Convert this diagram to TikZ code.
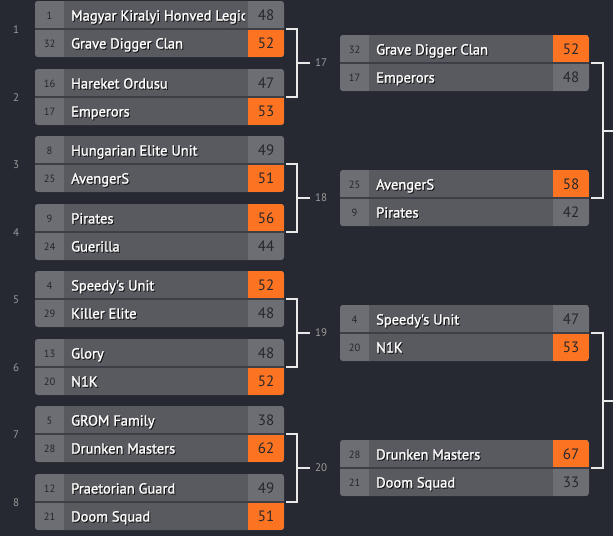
\documentclass[tikz,border=0pt]{standalone}
\usepackage{fontspec}
\setmainfont{PT Sans}
\newfontfamily\namefont{PT Sans}[FakeBold=1.3]
\usetikzlibrary{calc}
\definecolor{bg}{HTML}{272932}
\definecolor{cellname}{HTML}{595A5F}
\definecolor{cellside}{HTML}{6D6E73}
\definecolor{win}{HTML}{FC7322}
\definecolor{divider}{HTML}{3E3F46}
\definecolor{linec}{HTML}{E8E8E8}
\definecolor{lbl}{HTML}{9C9C9C}
\definecolor{darktxt}{HTML}{26272D}
\tikzset{
  matchbox/.style={minimum width=249pt, minimum height=56pt, inner sep=0pt, outer sep=0pt, fill=cellname, rounded corners=3pt, draw=none},
  seedtxt/.style={font=\fontsize{10.5}{12}\selectfont, text=darktxt, inner sep=0pt, anchor=base},
  nametxt/.style={font=\namefont\fontsize{14.5}{16}\selectfont, text=white, inner sep=0pt, anchor=base west},
  nameshadow/.style={nametxt, text=black, opacity=0.7},
  scoretxt/.style={font=\fontsize{15}{16}\selectfont, text=darktxt, inner sep=0pt, anchor=base},
  roundlbl/.style={font=\fontsize{11}{12}\selectfont, text=lbl, inner sep=0pt},
  bracket/.style={draw=linec, line width=2pt},
}
% name, xleft, top, seed1, team1, score1, seed2, team2, score2
\newcommand{\drawmatch}[9]{%
  \node[matchbox, anchor=north west] (#1) at (#2,#3) {};
  \begin{scope}
    \clip[rounded corners=3pt] (#2,#3) rectangle ({#2+249},{#3+56});
    \fill[cellside] (#2,#3) rectangle ({#2+29},{#3+56});
    \begin{scope}
      \clip ({#2+29},#3) rectangle ({#2+210},{#3+56});
      \node[nameshadow] (#1-t1s) at ({#2+37},{#3+20.5}) {#5};
      \node[nametxt] (#1-t1) at ({#2+36},{#3+19.5}) {#5};
      \node[nameshadow] (#1-t2s) at ({#2+37},{#3+48.5}) {#8};
      \node[nametxt] (#1-t2) at ({#2+36},{#3+47.5}) {#8};
    \end{scope}
    \fill[cellside] ({#2+213},#3) rectangle ({#2+249},{#3+56});
    \ifnum#6>#9\relax
      \fill[win] ({#2+213},#3) rectangle ({#2+249},{#3+28});
    \else
      \fill[win] ({#2+213},{#3+28}) rectangle ({#2+249},{#3+56});
    \fi
    \fill[divider] (#2,{#3+27.2}) rectangle ({#2+249},{#3+28.8});
  \end{scope}
  \node[seedtxt] (#1-s1) at ({#2+14.5},{#3+18}) {#4};
  \node[seedtxt] (#1-s2) at ({#2+14.5},{#3+46}) {#7};
  \node[scoretxt] (#1-p1) at ({#2+231},{#3+19.5}) {#6};
  \node[scoretxt] (#1-p2) at ({#2+231},{#3+47.5}) {#9};
}
% label name, upper match, lower match, text
\newcommand{\drawbracket}[4]{%
  \draw[bracket] ([xshift=2pt]#2.east) -- ++(11,0) coordinate (#1-a) |- ([xshift=2pt]#3.east) coordinate (#1-b);
  \coordinate (#1-m) at ($(#1-a)!0.5!(#1-a |- #1-b)$);
  \node[roundlbl, anchor=west] (#1) at ([xshift=18pt]#1-m) {#4};
  \draw[bracket] ([xshift=-1pt]#1-m) -- ([xshift=-5pt]#1.west);
}
\begin{document}
\begin{tikzpicture}[x=1pt, y=-1pt]
\fill[bg] (0,0) rectangle (613,536);
\useasboundingbox (0,0) rectangle (613,536);
% round 1
\drawmatch{m1}{35}{1}{1}{Magyar Kiralyi Honved Legio}{48}{32}{Grave Digger Clan}{52}
\drawmatch{m2}{35}{69}{16}{Hareket Ordusu}{47}{17}{Emperors}{53}
\drawmatch{m3}{35}{136}{8}{Hungarian Elite Unit}{49}{25}{AvengerS}{51}
\drawmatch{m4}{35}{204}{9}{Pirates}{56}{24}{Guerilla}{44}
\drawmatch{m5}{35}{271}{4}{Speedy's Unit}{52}{29}{Killer Elite}{48}
\drawmatch{m6}{35}{339}{13}{Glory}{48}{20}{N1K}{52}
\drawmatch{m7}{35}{406}{5}{GROM Family}{38}{28}{Drunken Masters}{62}
\drawmatch{m8}{35}{474}{12}{Praetorian Guard}{49}{21}{Doom Squad}{51}
% round labels
\foreach \i/\yy in {1/30,2/98,3/165,4/233,5/300,6/368,7/435,8/503}{
  \node[roundlbl] (rl\i) at (16,\yy) {\i};
}
% round 2
\drawmatch{m17}{340}{35}{32}{Grave Digger Clan}{52}{17}{Emperors}{48}
\drawmatch{m18}{340}{170}{25}{AvengerS}{58}{9}{Pirates}{42}
\drawmatch{m19}{340}{305}{4}{Speedy's Unit}{47}{20}{N1K}{53}
\drawmatch{m20}{340}{440}{28}{Drunken Masters}{67}{21}{Doom Squad}{33}
% brackets
\drawbracket{b17}{m1}{m2}{17}
\drawbracket{b18}{m3}{m4}{18}
\drawbracket{b19}{m5}{m6}{19}
\drawbracket{b20}{m7}{m8}{20}
% round 2 brackets
\draw[bracket] ([xshift=2pt]m17.east) -- ++(12,0) coordinate (c1a) |- ([xshift=2pt]m18.east) coordinate (c1b);
\coordinate (c1m) at ($(c1a)!0.5!(c1a |- c1b)$);
\coordinate (c1e) at (614,0 |- c1m);
\draw[bracket] ([xshift=-1pt]c1m) -- (c1e);
\draw[bracket] ([xshift=2pt]m19.east) -- ++(12,0) coordinate (c2a) |- ([xshift=2pt]m20.east) coordinate (c2b);
\coordinate (c2m) at ($(c2a)!0.5!(c2a |- c2b)$);
\coordinate (c2e) at (614,0 |- c2m);
\draw[bracket] ([xshift=-1pt]c2m) -- (c2e);
\end{tikzpicture}
\end{document}
